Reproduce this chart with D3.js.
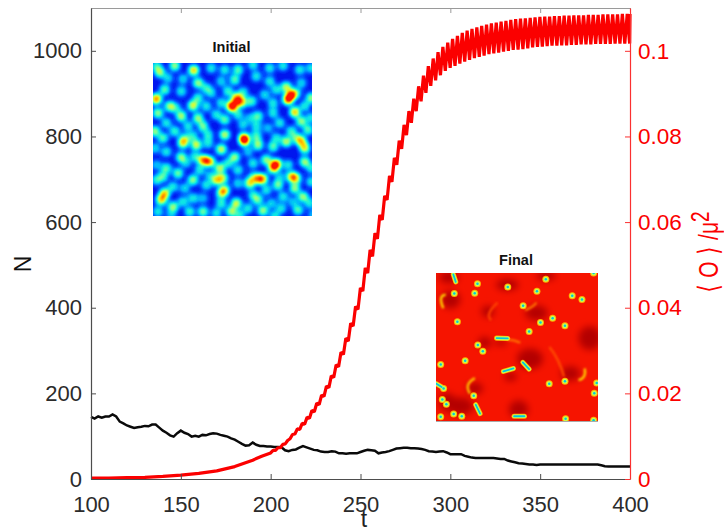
<!DOCTYPE html>
<html>
<head>
<meta charset="utf-8">
<script src="https://cdnjs.cloudflare.com/ajax/libs/d3/7.8.5/d3.min.js"></script>
<style>
  html, body { margin: 0; padding: 0; background: #fff; overflow: hidden; }
  text { font-family: "Liberation Sans", Arial, sans-serif; }
</style>
</head>
<body>
<div id="chart"></div>
<script>
// tick labels
const xTicks = [100, 150, 200, 250, 300, 350, 400];
const nTicks = [0, 200, 400, 600, 800, 1000];
const oTicks = [0, 0.02, 0.04, 0.06, 0.08, 0.1];

// black series, N sampled every 2 time units from t = 100
const blackN = [145, 141, 146, 143, 146, 146, 151, 146, 134, 130, 125, 122, 119, 121, 122, 124, 123, 127, 127, 120,
  113, 108, 102, 99, 107, 113, 108, 105, 99, 101, 99, 103, 102, 105, 107, 106, 103, 101, 99, 95,
  92, 87, 82, 78, 79, 85, 80, 77, 77, 76, 76, 75, 75, 74, 67, 65, 68, 69, 73, 77,
  74, 71, 68, 67, 64, 63, 63, 65, 64, 60, 60, 59, 60, 60, 60, 63, 66, 68, 67, 66,
  60, 62, 63, 65, 68, 71, 72, 73, 73, 72, 72, 71, 70, 68, 65, 64, 63, 64, 65, 62,
  58, 58, 58, 58, 54, 52, 50, 49, 49, 49, 49, 49, 49, 48, 47, 47, 43, 41, 39, 37,
  36, 35, 34, 34, 33, 34, 34, 34, 34, 34, 34, 34, 34, 34, 34, 34, 34, 34, 34, 34,
  34, 34, 32, 30, 29, 29, 29, 29, 29, 29, 29];

// red series, the smooth start
const redStartT = [100, 110, 120, 130, 140, 150, 160, 170, 180, 190, 195];
const redStartV = [0.0002, 0.0002, 0.0003, 0.0004, 0.0006, 0.0009, 0.0013, 0.0019, 0.0029, 0.0044, 0.0053];
// red series, low and high point of each oscillation from t = 200, one every 2.7 time units
const redLow = [0.0061, 0.0067, 0.0073, 0.0082, 0.0094, 0.0105, 0.0116, 0.0128, 0.0142, 0.0157, 0.0174, 0.0193, 0.0213, 0.0237, 0.0262,
  0.0291, 0.0322, 0.0357, 0.0396, 0.0439, 0.0481, 0.0520, 0.0561, 0.0605, 0.0652, 0.0694, 0.0734, 0.0771, 0.0803, 0.0832,
  0.0859, 0.0882, 0.0902, 0.0918, 0.0931, 0.0943, 0.0953, 0.0960, 0.0965, 0.0970, 0.0975, 0.0979, 0.0983, 0.0986, 0.0989,
  0.0992, 0.0994, 0.0996, 0.0998, 0.1000, 0.1002, 0.1003, 0.1004, 0.1006, 0.1008, 0.1009, 0.1010, 0.1011, 0.1012, 0.1012,
  0.1013, 0.1013, 0.1014, 0.1014, 0.1015, 0.1015, 0.1015, 0.1016, 0.1016, 0.1016, 0.1016, 0.1017, 0.1017, 0.1017, 0.1017];
const redHigh = [0.0067, 0.0073, 0.0081, 0.0090, 0.0104, 0.0117, 0.0130, 0.0144, 0.0160, 0.0177, 0.0196, 0.0217, 0.0241, 0.0267, 0.0296,
  0.0329, 0.0364, 0.0403, 0.0446, 0.0493, 0.0535, 0.0574, 0.0617, 0.0661, 0.0708, 0.0750, 0.0790, 0.0827, 0.0859, 0.0888,
  0.0917, 0.0942, 0.0964, 0.0982, 0.0997, 0.1009, 0.1019, 0.1028, 0.1035, 0.1042, 0.1047, 0.1051, 0.1055, 0.1058, 0.1061,
  0.1064, 0.1066, 0.1068, 0.1070, 0.1072, 0.1074, 0.1075, 0.1076, 0.1077, 0.1078, 0.1079, 0.1080, 0.1080, 0.1081, 0.1081,
  0.1082, 0.1082, 0.1083, 0.1083, 0.1083, 0.1084, 0.1084, 0.1084, 0.1085, 0.1085, 0.1085, 0.1085, 0.1086, 0.1086, 0.1086];

// initial inset, blobs of the field, in pixels inside the inset, with strength 0-10
const blobX = [6.7, 21.7, 40.7, 58.3, 71.7, 3.3, 15, 45, 30, 53.3, 68.3, 11.7, 28.3, 3.3, 45, 58.3, 75, 16.7, 40, 53.3, 68.3, 78.3, 5, 28.3, 45, 23.3, 63.3, 13.3, 35, 50, 71.7, 21.7, 1.7, 40, 55, 71.7, 10, 31.7,
  81.7, 85, 100, 116.7, 130, 146.7, 158.3, 103.3, 116.7, 133.3, 138.3, 135, 83.3, 88.3, 98.3, 90, 123.3, 148.3, 158.3, 143.3, 80, 111.7, 120, 141.7, 151.7, 85, 96.7, 105, 120, 148.3, 158.3, 126.7, 90, 103.3, 115, 91, 103.3, 138.3, 155, 123.3, 143.3,
  30, 43.3, 55, 68.3, 50, 56.7, 66.7, 75, 28.3, 13.3, 1.7, 41.7, 13.3, 25, 3.3, 40, 63.3, 70, 46.7, 10, 33.3, 56.7, 3.3, 20, 31.7, 53.3, 71.7, 68.3, 11.7, 8.3, 40, 30, 50, 68.3, 20, 5, 36.7, 50, 63.3, 78.3, 18.3,
  91.7, 105, 120, 133.3, 148.3, 151.7, 81.7, 95, 113.3, 100, 123.3, 120, 135, 151.7, 158.3, 85, 138.3, 143.3, 100, 110, 105, 126.7, 96.7, 158.3, 125, 141.7, 85, 113.3, 100, 150, 130, 83.3, 105, 118.3, 140, 156.7, 95, 110, 128.3, 145, 86.7, 160, 121.7];
const blobY = [9.3, 2.7, 7.3, 5, 6.7, 2.7, 15, 20, 16, 25, 18.3, 26.7, 28.3, 36, 35, 30, 28.3, 43.3, 42.7, 43.3, 40, 43.3, 50, 53.3, 55, 45, 51.7, 60, 63.3, 63.3, 56.7, 68.3, 68.3, 73.3, 71.7, 71.7, 75, 75,
  16.7, 6.7, 1.7, 5, 2.7, 6.7, 5, 13.3, 18.3, 24, 31.7, 36.7, 35, 39.3, 38.3, 29.3, 26.7, 20, 35, 30, 43.3, 31.7, 40, 49, 43.3, 51.7, 55, 53.3, 50, 58.3, 55, 60, 61.7, 63.3, 65, 75, 73.3, 68.3, 66.7, 75, 75,
  80.3, 82, 80.3, 86.3, 97, 98.7, 105.3, 100.3, 94.3, 88.7, 85.3, 93.7, 105.3, 110.3, 102, 117, 117, 115.3, 107, 113.7, 100.3, 112, 117, 123.7, 125.3, 122, 127, 130.3, 130.3, 137, 135.3, 138.7, 135.3, 140.3, 143.7, 148.7, 148.7, 148.7, 150.3, 148.7, 152,
  78.7, 82, 83.7, 78.7, 78, 85.3, 94.3, 88.7, 97, 100.3, 101, 105.3, 102, 98.7, 105.3, 107, 113.7, 115.3, 113.7, 116, 116, 113.7, 120.3, 118.7, 122, 125.3, 120.3, 127, 132, 133.7, 133.7, 140.3, 137, 140.3, 138.7, 140.3, 145.3, 147.7, 145.3, 147, 152, 152, 153];
const blobV = [6, 6, 8, 4, 4, 4, 3.5, 6, 3.5, 4, 3.5, 5, 4, 9.5, 4.5, 3.5, 4.5, 6, 7, 4, 4, 7, 6, 6.5, 6, 3.5, 4, 4, 4, 5.5, 5, 4.5, 6, 4, 4, 6.5, 5, 4,
  5, 5, 4, 4, 4, 4, 4, 4, 4, 6.5, 8, 9.5, 8, 8, 5, 4, 4, 3.5, 6, 4, 5.5, 3.5, 4, 8, 4, 4, 3, 5, 4, 6, 4, 4, 3.5, 4, 3, 9, 5, 4.5, 5, 4, 4,
  7, 7, 4, 7, 8.5, 8, 6.5, 4, 6, 4, 3.5, 4, 5, 5.5, 3, 6, 7, 6, 4, 4.5, 3, 3, 4, 4, 3.5, 4, 6, 5.5, 7.5, 7.5, 4, 4, 3, 4.5, 6, 4, 4.5, 5.5, 4, 6, 3,
  6, 6, 5, 6.5, 7, 7, 6, 3, 6, 4, 9.5, 7, 4, 6, 4, 4, 7, 6, 3.5, 7, 6, 3, 7, 4, 5.5, 6, 3.5, 4, 4, 6, 4, 7, 5, 3.5, 3, 4, 4, 6, 4, 5, 4, 3, 4];

// final inset, all positions are percent of the inset width and height
const finalDotX = [25.6, 44.3, 67.8, 11.3, 23.9, 62.3, 84.1, 90.1, 53.8, 13.2, 72, 64.5, 79.6, 57.5, 25.8, 28.9, 18, 2.9, 69.9, 79.6, 99.2, 97.7, 4.7, 23.3, 3.9, 6.4, 2.9, 10.9, 15.9, 80, 97.3, 97.3];
const finalDotY = [7.2, 9.5, 4.3, 13.8, 13.6, 12.4, 15.4, 17.9, 22.2, 33, 30.5, 33.5, 35.7, 39.6, 48.6, 52.9, 59.3, 61.8, 74.9, 73.1, 74.4, 81.2, 78, 83, 85.5, 88.7, 97.1, 95.2, 96.8, 98.4, 0, 99.5];
const finalBarX1 = [10.7, 37.4, 41.6, 53.6, 24.5, 48.2, 0];
const finalBarY1 = [1, 44, 66.5, 60.4, 89, 96.8, 74.7];
const finalBarX2 = [12.2, 44.3, 47.8, 57.5, 27.2, 54.6, 3.5];
const finalBarY2 = [6, 44.2, 64.5, 65, 95, 96.8, 77];
const darkPatchX = [8, 9, 62, 30, 58, 83, 24, 15, 51, 46, 40, 95, 7, 44, 68, 32];
const darkPatchY = [3, 18, 27, 47, 58, 68, 78, 90, 92, 70, 47, 44, 87, 8, 2, 26];
const darkPatchRX = [6, 6, 7, 4, 8, 6, 5, 8, 6, 4, 4, 7, 5, 7, 6, 4];
const darkPatchRY = [4, 6, 5, 4, 7, 5, 4, 6, 6, 3, 2, 8, 6, 4, 3, 4];
// bright rims next to the dark patches, as [start, control, end] triples
const rimX = [[4.5, 1, 6], [91.8, 93, 88], [24, 17, 21], [79, 76, 70], [55, 60, 62], [44, 48, 52], [34, 30, 38]];
const rimY = [[23.8, 15, 14.7], [64.5, 71, 72.4], [71, 75, 81.5], [70, 58, 50], [25, 23, 20], [45, 45, 47], [32, 28, 20]];
const rimV = [7, 7, 7.2, 8.4, 8, 8, 8.5];

const width = 724, height = 529;
const plot = {left: 91, right: 630, top: 8, bottom: 479};

const svg = d3.select("#chart")
  .append("svg")
    .attr("width", width)
    .attr("height", height)
    .style("display", "block");

// scales
const x = d3.scaleLinear().domain([100, 400]).range([plot.left, plot.right]);
const yN = d3.scaleLinear().domain([0, 1100]).range([plot.bottom, plot.top]);
const yO = d3.scaleLinear().domain([0, 0.11]).range([plot.bottom, plot.top]);

// jet colormap on a 0-10 range
const jet = d3.scaleLinear()
  .domain([0, 1, 2, 3, 4, 5, 6, 7, 8, 9, 10])
  .range(["#00009f", "#0000e8", "#0050ff", "#00b0ff", "#10f0e0", "#70ffa0", "#d0ff40", "#ffd000", "#ff7000", "#ff1000", "#c00000"])
  .clamp(true);

const defs = svg.append("defs");
defs.append("filter").attr("id", "soft").attr("x", "-5%").attr("y", "-5%").attr("width", "110%").attr("height", "110%")
  .append("feGaussianBlur").attr("stdDeviation", 0.5);
defs.append("filter").attr("id", "patch").attr("x", "-50%").attr("y", "-50%").attr("width", "200%").attr("height", "200%")
  .append("feGaussianBlur").attr("stdDeviation", 3.5);
defs.append("filter").attr("id", "rim").attr("x", "-30%").attr("y", "-30%").attr("width", "160%").attr("height", "160%")
  .append("feGaussianBlur").attr("stdDeviation", 0.8);
defs.append("filter").attr("id", "spot").attr("x", "-50%").attr("y", "-50%").attr("width", "200%").attr("height", "200%")
  .append("feGaussianBlur").attr("stdDeviation", 0.4);

// black line
const blackT = d3.range(100, 401, 2);
svg.append("path")
  .datum(blackN)
  .attr("fill", "none")
  .attr("stroke", "#0a0a0a")
  .attr("stroke-width", 2.5)
  .attr("d", d3.line().x((d, i) => x(blackT[i])).y(d => yN(d)));

// red line, start then the oscillating part
const redT = d3.range(200, 400, 2.7);
const redPoints = redStartT.map((t, i) => [t, redStartV[i]]);
redT.forEach((t, i) => {
  redPoints.push([t, redLow[i]]);
  redPoints.push([Math.min(t + 1.35, 400), redHigh[i]]);
});
svg.append("path")
  .datum(redPoints)
  .attr("fill", "none")
  .attr("stroke", "#fb0000")
  .attr("stroke-width", 3.2)
  .attr("stroke-linejoin", "bevel")
  .attr("d", d3.line().x(d => x(d[0])).y(d => yO(d[1])));

// axes
const axisGray = "#4d4d4d";
function styleAxis(g, color, textColor, size) {
  g.select(".domain").attr("stroke", color).attr("stroke-width", 1.2);
  g.selectAll(".tick line").attr("stroke", color);
  g.selectAll(".tick text").attr("fill", textColor).style("font-size", size + "px").style("font-family", "'Liberation Sans', Arial, sans-serif");
}
svg.append("g")
  .attr("transform", `translate(0, ${plot.bottom})`)
  .call(d3.axisBottom(x).tickValues(xTicks).tickSizeInner(-5).tickSizeOuter(0).tickPadding(17))
  .call(styleAxis, axisGray, "#2b2b2b", 22);
svg.append("g")
  .attr("transform", `translate(0, ${plot.top})`)
  .call(d3.axisTop(x).tickValues(xTicks).tickSizeInner(-5).tickSizeOuter(0).tickFormat(""))
  .call(styleAxis, "#9a9a9a", "#2b2b2b", 22);
svg.append("g")
  .attr("transform", `translate(${plot.left}, 0)`)
  .call(d3.axisLeft(yN).tickValues(nTicks).tickSizeInner(-5).tickSizeOuter(0).tickPadding(9).tickFormat(d3.format("d")))
  .call(styleAxis, axisGray, "#2b2b2b", 22);
svg.append("g")
  .attr("transform", `translate(${plot.right}, 0)`)
  .call(d3.axisRight(yO).tickValues(oTicks).tickSizeInner(-5).tickSizeOuter(0).tickPadding(8).tickFormat(d3.format("~g")))
  .call(styleAxis, "#fb3030", "#fb0000", 22.5);

// axis titles
svg.append("text")
  .attr("x", 364).attr("y", 527)
  .attr("text-anchor", "middle")
  .style("font-size", "23px").attr("fill", "#222")
  .text("t");
svg.append("text")
  .attr("transform", "translate(31, 264) rotate(-90)")
  .attr("text-anchor", "middle")
  .style("font-size", "23px").attr("fill", "#111")
  .text("N");
const oTitle = svg.append("text")
  .attr("transform", "translate(718, 252) rotate(-90) scale(1, 1.35)")
  .attr("text-anchor", "middle")
  .style("font-size", "21px").attr("fill", "#fb0000");
oTitle.append("tspan").style("font-family", "'DejaVu Sans'").text("\u27e8 ");
oTitle.append("tspan").text("O");
oTitle.append("tspan").style("font-family", "'DejaVu Sans'").text(" \u27e9 ");
oTitle.append("tspan").text("/\u03bc");
oTitle.append("tspan").attr("dy", -7).style("font-size", "19px").text("2");

// initial inset, filled contours of the blob density
const ini = {x0: 153, x1: 312, y0: 63, y1: 216};
const sigma = 3.6;
const blobIndex = d3.range(blobX.length);
const levels = d3.range(0.3, 10.2, 0.3);
const contours = d3.contourDensity()
  .x(i => blobX[i])
  .y(i => blobY[i])
  .weight(i => blobV[i] * 1.0 * 2 * Math.PI * sigma * sigma)
  .size([ini.x1 - ini.x0, ini.y1 - ini.y0])
  .cellSize(1)
  .bandwidth(sigma)
  .thresholds(levels)(blobIndex);
const iniX = d3.scaleLinear().domain([0, ini.x1 - ini.x0]).range([ini.x0, ini.x1]);
const iniY = d3.scaleLinear().domain([0, ini.y1 - ini.y0]).range([ini.y0, ini.y1]);
const iniPath = d3.geoPath(d3.geoTransform({
  point(px, py) { this.stream.point(iniX(px), iniY(py)); }
}));
const fieldColor = v => jet(1.25 + v * 0.78);

defs.append("clipPath").attr("id", "iniClip").append("rect")
  .attr("x", ini.x0).attr("y", ini.y0)
  .attr("width", ini.x1 - ini.x0).attr("height", ini.y1 - ini.y0);
const iniGroup = svg.append("g").attr("clip-path", "url(#iniClip)")
  .append("g").attr("filter", "url(#soft)");
iniGroup.append("rect")
  .attr("x", ini.x0 - 10).attr("y", ini.y0 - 10)
  .attr("width", ini.x1 - ini.x0 + 20).attr("height", ini.y1 - ini.y0 + 20)
  .attr("fill", fieldColor(0));
iniGroup.selectAll("path")
  .data(contours)
  .enter()
  .append("path")
    .attr("d", iniPath)
    .attr("fill", d => fieldColor(d.value));

svg.append("text")
  .attr("x", (ini.x0 + ini.x1) / 2 - 1).attr("y", 52)
  .attr("text-anchor", "middle")
  .style("font-size", "14.5px").style("font-weight", "bold").attr("fill", "#111")
  .text("Initial");

// final inset
const fin = {x0: 436, x1: 598, y0: 273, y1: 421};
const finX = d3.scaleLinear().domain([0, 100]).range([fin.x0, fin.x1]);
const finY = d3.scaleLinear().domain([0, 100]).range([fin.y0, fin.y1]);
defs.append("clipPath").attr("id", "finClip").append("rect")
  .attr("x", fin.x0).attr("y", fin.y0)
  .attr("width", fin.x1 - fin.x0).attr("height", fin.y1 - fin.y0);
const finGroup = svg.append("g").attr("clip-path", "url(#finClip)");
finGroup.append("rect")
  .attr("x", fin.x0).attr("y", fin.y0)
  .attr("width", fin.x1 - fin.x0).attr("height", fin.y1 - fin.y0)
  .attr("fill", "#f61400");

// dark patches
finGroup.append("g").attr("filter", "url(#patch)")
  .selectAll("ellipse")
  .data(darkPatchX)
  .enter()
  .append("ellipse")
    .attr("cx", d => finX(d))
    .attr("cy", (d, i) => finY(darkPatchY[i]))
    .attr("rx", (d, i) => finX(darkPatchRX[i]) - fin.x0)
    .attr("ry", (d, i) => finY(darkPatchRY[i]) - fin.y0)
    .attr("fill", "#b40000");

// bright rims
finGroup.append("g").attr("filter", "url(#rim)")
  .selectAll("path")
  .data(rimV)
  .enter()
  .append("path")
    .attr("d", (d, i) => {
      const p = d3.path();
      p.moveTo(finX(rimX[i][0]), finY(rimY[i][0]));
      p.quadraticCurveTo(finX(rimX[i][1]), finY(rimY[i][1]), finX(rimX[i][2]), finY(rimY[i][2]));
      return p.toString();
    })
    .attr("fill", "none")
    .attr("stroke", d => jet(d))
    .attr("stroke-width", 2.4);

// spots: outer yellow, then green, then the cyan core
const spotLayers = [
  {width: 7, color: "#ffb000"},
  {width: 5, color: "#c8ff50"},
  {width: 2.5, color: "#00c8e0"}
];
spotLayers.forEach(layer => {
  const g = finGroup.append("g").attr("filter", "url(#spot)");
  g.selectAll("circle")
    .data(finalDotX)
    .enter()
    .append("circle")
      .attr("cx", d => finX(d))
      .attr("cy", (d, i) => finY(finalDotY[i]))
      .attr("r", layer.width / 2)
      .attr("fill", layer.color);
  g.selectAll("line")
    .data(finalBarX1)
    .enter()
    .append("line")
      .attr("x1", d => finX(d))
      .attr("y1", (d, i) => finY(finalBarY1[i]))
      .attr("x2", (d, i) => finX(finalBarX2[i]))
      .attr("y2", (d, i) => finY(finalBarY2[i]))
      .attr("stroke", layer.color)
      .attr("stroke-width", layer.width * 0.72)
      .attr("stroke-linecap", "round");
});

svg.append("line")
  .attr("x1", fin.x0).attr("x2", fin.x1)
  .attr("y1", fin.y1 + 0.5).attr("y2", fin.y1 + 0.5)
  .attr("stroke", "#aaa").attr("stroke-width", 1);

svg.append("text")
  .attr("x", (fin.x0 + fin.x1) / 2 - 1).attr("y", 265)
  .attr("text-anchor", "middle")
  .style("font-size", "14.5px").style("font-weight", "bold").attr("fill", "#111")
  .text("Final");
</script>
</body>
</html>
